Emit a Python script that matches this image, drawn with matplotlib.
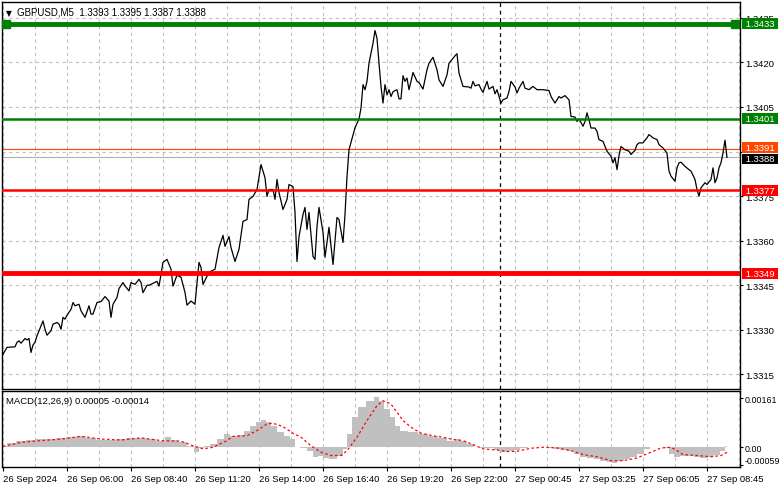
import numpy as np
import matplotlib
matplotlib.use("Agg")
import matplotlib.pyplot as plt
import matplotlib.transforms as mtransforms

plt.rcParams['font.family'] = ['Liberation Sans', 'DejaVu Sans']

# GBPUSD M5 close line: bar index (5-minute bars from 26 Sep 03:20) and close
bars = [0, 2, 6, 7, 8, 9, 11, 12, 13, 14, 15, 16, 17, 19, 20, 21, 22, 24, 25, 27,
        28, 29, 30, 31, 32, 34, 35, 36, 38, 39, 41, 43, 44, 45, 47, 49, 51, 53, 54, 55,
        57, 58, 60, 61, 63, 64, 66, 68, 69, 70, 72, 73, 77, 78, 80, 82, 84, 85, 87, 89,
        91, 92, 94, 96, 98, 99, 100, 102, 103, 106, 108, 110, 111, 113, 114, 116, 118, 120, 122, 123,
        125, 127, 129, 131, 132, 133, 135, 136, 137, 138, 140, 142, 143, 145, 146, 147, 148, 150, 151, 152,
        153, 155, 156, 157, 158, 160, 161, 163, 165, 167, 168, 170, 171, 172, 173, 176, 178, 179, 180, 181,
        182, 183, 185, 186, 187, 188, 189, 190, 191, 192, 193, 194, 195, 196, 197, 198, 199, 200, 201, 202,
        203, 204, 205, 207, 208, 210, 212, 213, 215, 217, 218, 220, 222, 223, 226, 227, 228, 230, 233, 234,
        235, 236, 238, 239, 240, 242, 243, 245, 246, 247, 248, 249, 250, 252, 253, 254, 256, 257, 258, 260,
        261, 263, 265, 267, 270, 273, 274, 276, 278, 279, 281, 283, 284, 286, 287, 288, 290, 291, 292, 293,
        294, 296, 297, 298, 300, 302, 304, 305, 306, 307, 308, 309, 311, 313, 314, 316, 317, 318, 320, 322,
        323, 325, 327, 328, 330, 332, 333, 334, 336, 337, 338, 339, 341, 343, 344, 346, 347, 348, 349, 351,
        352, 354, 355, 356, 357, 358, 359, 360, 361, 362]
close = [1.33218, 1.33241, 1.33243, 1.33258, 1.33263, 1.33255, 1.33271, 1.33266, 1.33271, 1.33224,
         1.33249, 1.33258, 1.33280, 1.33313, 1.33330, 1.33302, 1.33282, 1.33297, 1.33319, 1.33325,
         1.33319, 1.33302, 1.33342, 1.33336, 1.33349, 1.33369, 1.33392, 1.33381, 1.33386, 1.33364,
         1.33342, 1.33381, 1.33353, 1.33353, 1.33392, 1.33395, 1.33412, 1.33397, 1.33342, 1.33386,
         1.33409, 1.33439, 1.33459, 1.33448, 1.33431, 1.33459, 1.33453, 1.33470, 1.33459, 1.33425,
         1.33450, 1.33450, 1.33463, 1.33447, 1.33527, 1.33537, 1.33504, 1.33447, 1.33484, 1.33477,
         1.33426, 1.33383, 1.33397, 1.33386, 1.33527, 1.33510, 1.33453, 1.33480, 1.33494, 1.33504,
         1.33577, 1.33618, 1.33581, 1.33614, 1.33577, 1.33530, 1.33571, 1.33665, 1.33671, 1.33739,
         1.33749, 1.33772, 1.33856, 1.33812, 1.33749, 1.33772, 1.33772, 1.33739, 1.33806, 1.33762,
         1.33705, 1.33739, 1.33789, 1.33782, 1.33695, 1.33530, 1.33614, 1.33688, 1.33712, 1.33638,
         1.33695, 1.33547, 1.33537, 1.33648, 1.33712, 1.33628, 1.33544, 1.33645, 1.33520, 1.33678,
         1.33671, 1.33594, 1.33688, 1.33816, 1.33906, 1.33980, 1.34009, 1.34046, 1.34125, 1.34108,
         1.34136, 1.34197, 1.34264, 1.34307, 1.34281, 1.34197, 1.34119, 1.34063, 1.34125, 1.34091,
         1.34108, 1.34085, 1.34101, 1.34105, 1.34108, 1.34077, 1.34077, 1.34155, 1.34136, 1.34147,
         1.34108, 1.34136, 1.34166, 1.34136, 1.34132, 1.34110, 1.34175, 1.34197, 1.34217, 1.34175,
         1.34141, 1.34119, 1.34158, 1.34197, 1.34222, 1.34229, 1.34164, 1.34119, 1.34117, 1.34113,
         1.34136, 1.34121, 1.34125, 1.34110, 1.34099, 1.34136, 1.34110, 1.34119, 1.34094, 1.34108,
         1.34085, 1.34063, 1.34074, 1.34080, 1.34102, 1.34136, 1.34117, 1.34097, 1.34113, 1.34136,
         1.34113, 1.34108, 1.34119, 1.34108, 1.34108, 1.34105, 1.34085, 1.34063, 1.34085, 1.34080,
         1.34088, 1.34074, 1.34018, 1.34016, 1.34001, 1.34010, 1.33985, 1.34001, 1.34030, 1.34007,
         1.33979, 1.33979, 1.33968, 1.33940, 1.33934, 1.33901, 1.33884, 1.33862, 1.33879, 1.33839,
         1.33886, 1.33917, 1.33906, 1.33901, 1.33890, 1.33904, 1.33923, 1.33929, 1.33929, 1.33946,
         1.33957, 1.33946, 1.33940, 1.33923, 1.33912, 1.33895, 1.33834, 1.33817, 1.33800, 1.33845,
         1.33862, 1.33864, 1.33850, 1.33839, 1.33834, 1.33806, 1.33772, 1.33750, 1.33778, 1.33795,
         1.33789, 1.33806, 1.33845, 1.33795, 1.33811, 1.33845, 1.33862, 1.33895, 1.33938, 1.33880]

# MACD(12,26,9): histogram (main) and signal, read at sample bars
macd_bars = [0, 4, 9, 14, 19, 24, 29, 34, 39, 44, 49, 54, 59, 64, 69, 74, 79, 83, 85, 90,
             94, 97, 99, 102, 105, 109, 112, 115, 119, 122, 125, 128, 130, 133, 135, 139, 142, 145, 147, 150,
             154, 156, 159, 161, 165, 169, 171, 173, 176, 179, 184, 187, 189, 192, 195, 197, 200, 205, 210, 215,
             220, 224, 227, 230, 234, 237, 240, 244, 247, 250, 254, 257, 260, 265, 270, 274, 277, 280, 284, 287,
             290, 294, 297, 300, 304, 305, 309, 312, 315, 319, 322, 325, 329, 332, 334, 337, 340, 344, 347, 350,
             354, 357, 360, 362]
macd_main = [0.000055, 0.00013, 0.00022, 0.00025, 0.00026, 0.00027, 0.00030, 0.00035, 0.00036, 0.00030,
             0.00024, 0.00024, 0.00026, 0.00031, 0.00031, 0.00026, 0.00022, 0.00033, 0.00024, 0.00016,
             0.00005, -0.00016, -0.00002, 0.00005, 0.00011, 0.00027, 0.00044, 0.00038, 0.00042, 0.00055,
             0.00071, 0.00082, 0.00090, 0.00082, 0.00071, 0.00049, 0.00038, 0.00027, 0.0, -0.00002,
             -0.00011, -0.00031, -0.00027, -0.00035, -0.00038, -0.00027, -0.00005, 0.00044, 0.00099, 0.00131,
             0.00153, 0.00166, 0.00153, 0.00126, 0.00099, 0.00071, 0.00055, 0.00051, 0.00044, 0.00038,
             0.00031, 0.00022, 0.00027, 0.00022, 0.00011, 0.00002, -0.00002, -0.00003, -0.00009, -0.00014,
             -0.00013, -0.00009, -0.00003, 0.0, 0.0, -0.00002, -0.00005, -0.00009, -0.00013, -0.00022,
             -0.00031, -0.00035, -0.00038, -0.00044, -0.00049, -0.00053, -0.00046, -0.00038, -0.00031, -0.00022,
             -0.00005, 0.0, 0.0, -0.00003, -0.00022, -0.00031, -0.00027, -0.00027, -0.00031, -0.00035,
             -0.00031, -0.00025, -0.00011, 0.00005]
signal_bars = [0, 9, 19, 29, 39, 49, 59, 69, 79, 89, 95, 100, 105, 112, 115, 122, 127, 132, 135, 140,
               145, 149, 154, 159, 164, 169, 172, 177, 182, 187, 190, 194, 197, 200, 204, 209, 215, 220, 225, 230,
               235, 240, 247, 252, 257, 264, 270, 277, 284, 290, 297, 304, 310, 317, 324, 329, 334, 337, 340, 347,
               354, 359, 362]
signal = [0.00003, 0.00016, 0.00022, 0.00027, 0.00036, 0.00027, 0.00024, 0.00031, 0.00022, 0.00020,
          0.00005, -0.00005, 0.0, 0.00022, 0.00036, 0.00038, 0.00055, 0.00077, 0.00079, 0.00068,
          0.00046, 0.00033, 0.00005, -0.00016, -0.00027, -0.00027, -0.00011, 0.00033, 0.00088, 0.00137,
          0.00153, 0.00142, 0.00115, 0.00088, 0.00066, 0.00046, 0.00038, 0.00033, 0.00026, 0.00022,
          0.00009, -0.00005, -0.00009, -0.00014, -0.00013, -0.00003, 0.0, -0.00002, -0.00011, -0.00024,
          -0.00031, -0.00044, -0.00044, -0.00035, -0.00016, -0.00002, 0.0, -0.00011, -0.00024, -0.00027,
          -0.00031, -0.00027, -0.00016]

# horizontal levels: price, colour, line width
levels = [1.3433, 1.3401, 1.3377, 1.3349]
level_colors = ['#008000', '#008000', '#FF0000', '#FF0000']
level_widths = [3.5, 1.8, 1.8, 3.5]
ask_price, bid_price = 1.3391, 1.3388

price_ticks = [1.3315, 1.3330, 1.3345, 1.3360, 1.3375, 1.3390, 1.3405, 1.3420, 1.3435]
price_tick_labels = ['1.3315', '1.3330', '1.3345', '1.3360', '1.3375', '', '1.3405', '1.3420', '1.3435']
time_ticks = [0, 32, 64, 96, 128, 160, 192, 224, 256, 288, 320, 352]
time_labels = ['26 Sep 2024', '26 Sep 06:00', '26 Sep 08:40', '26 Sep 11:20', '26 Sep 14:00',
               '26 Sep 16:40', '26 Sep 19:20', '26 Sep 22:00', '27 Sep 00:45', '27 Sep 03:25',
               '27 Sep 06:05', '27 Sep 08:45']
day_separator = 248.5

W, H = 781, 489
fig = plt.figure(figsize=(W / 100, H / 100), dpi=100)
ax = fig.add_axes([2 / W, 99 / H, 738 / W, 387 / H])
axm = fig.add_axes([2 / W, 21 / H, 738 / W, 76 / H])

grid_kw = dict(color='#C0C0C0', linestyle=(0, (3, 3)), linewidth=0.8)
for a in (ax, axm):
    a.set_xlim(-0.5, 368.5)
    for g in range(0, 369, 16):
        a.axvline(g, zorder=0, **grid_kw)
    a.axvline(day_separator, color='black', linestyle=(0, (3, 3)), linewidth=0.9, zorder=1)
    for s in a.spines.values():
        s.set_linewidth(1.0)
    a.yaxis.tick_right()
    a.tick_params(axis='y', direction='out', length=2.5, width=0.8, labelsize=6.8, pad=1)

# main panel
ax.set_ylim(1.33101, 1.34403)
for p in price_ticks:
    ax.axhline(p, zorder=0, **grid_kw)
ax.plot(bars, close, color='black', linewidth=0.9, zorder=3)
ax.axhline(ask_price, color='#FF4500', linewidth=0.8, zorder=2)
ax.axhline(bid_price, color='#B0B0B0', linewidth=0.8, zorder=2)
for lv, c, lw in zip(levels, level_colors, level_widths):
    ax.axhline(lv, color=c, linewidth=lw, zorder=4)
ax.plot([1.5], [levels[0]], marker='s', markersize=6, color='#008000', zorder=5, clip_on=False)
ax.plot([366], [levels[0]], marker='s', markersize=6, color='#008000', zorder=5)
ax.set_yticks(price_ticks)
ax.set_yticklabels(price_tick_labels)
ax.set_xticks([])

trans = mtransforms.blended_transform_factory(ax.transAxes, ax.transData)
boxes = list(zip(levels, level_colors)) + [(ask_price, '#FF4500'), (bid_price, 'black')]
shifts = [0, 0, 0, 0, 1.0, -1.5]
for (lv, c), sh in zip(boxes, shifts):
    tr = trans + mtransforms.ScaledTranslation(0, sh / 100, fig.dpi_scale_trans)
    ax.text(1.004, lv, f' {lv:.4f} ', transform=tr, ha='left', va='center', fontsize=6.8,
            color='white', clip_on=False, zorder=10,
            bbox=dict(boxstyle='square,pad=0.1', facecolor=c, edgecolor='none'))

ax.text(0.005, 0.984, '\u25BC', transform=ax.transAxes, ha='left', va='top', fontsize=5.5,
        family='DejaVu Sans')
ax.text(0.020, 0.988, 'GBPUSD,M5  1.3393 1.3395 1.3387 1.3388', transform=ax.transAxes,
        ha='left', va='top', fontsize=7)

# MACD panel
axm.set_ylim(-0.000647, 0.00185)
axm.fill_between(macd_bars, 0, macd_main, step='mid', color='#C0C0C0', linewidth=0, zorder=2)
axm.plot(signal_bars, signal, color='red', linestyle=(0, (2, 2)), linewidth=0.9, zorder=3)
axm.set_yticks([0.00161, 0.0, -0.00059])
axm.set_yticklabels(['0.00161', '0.00', '-0.00059'])
axm.tick_params(axis='y', pad=0.5, labelsize=6.4)
lbls = axm.get_yticklabels()
offset = mtransforms.ScaledTranslation(0, 4 / 72, fig.dpi_scale_trans)
lbls[2].set_transform(lbls[2].get_transform() + offset)
axm.set_xticks(time_ticks)
axm.set_xticklabels(time_labels, ha='left')
axm.tick_params(axis='x', direction='out', length=3, width=0.8, labelsize=6.8, pad=2)
axm.text(0.006, 0.93, 'MACD(12,26,9) 0.00005 -0.00014', transform=axm.transAxes,
         ha='left', va='top', fontsize=6.8)

fig.savefig('out.png', dpi=100, facecolor='white')
